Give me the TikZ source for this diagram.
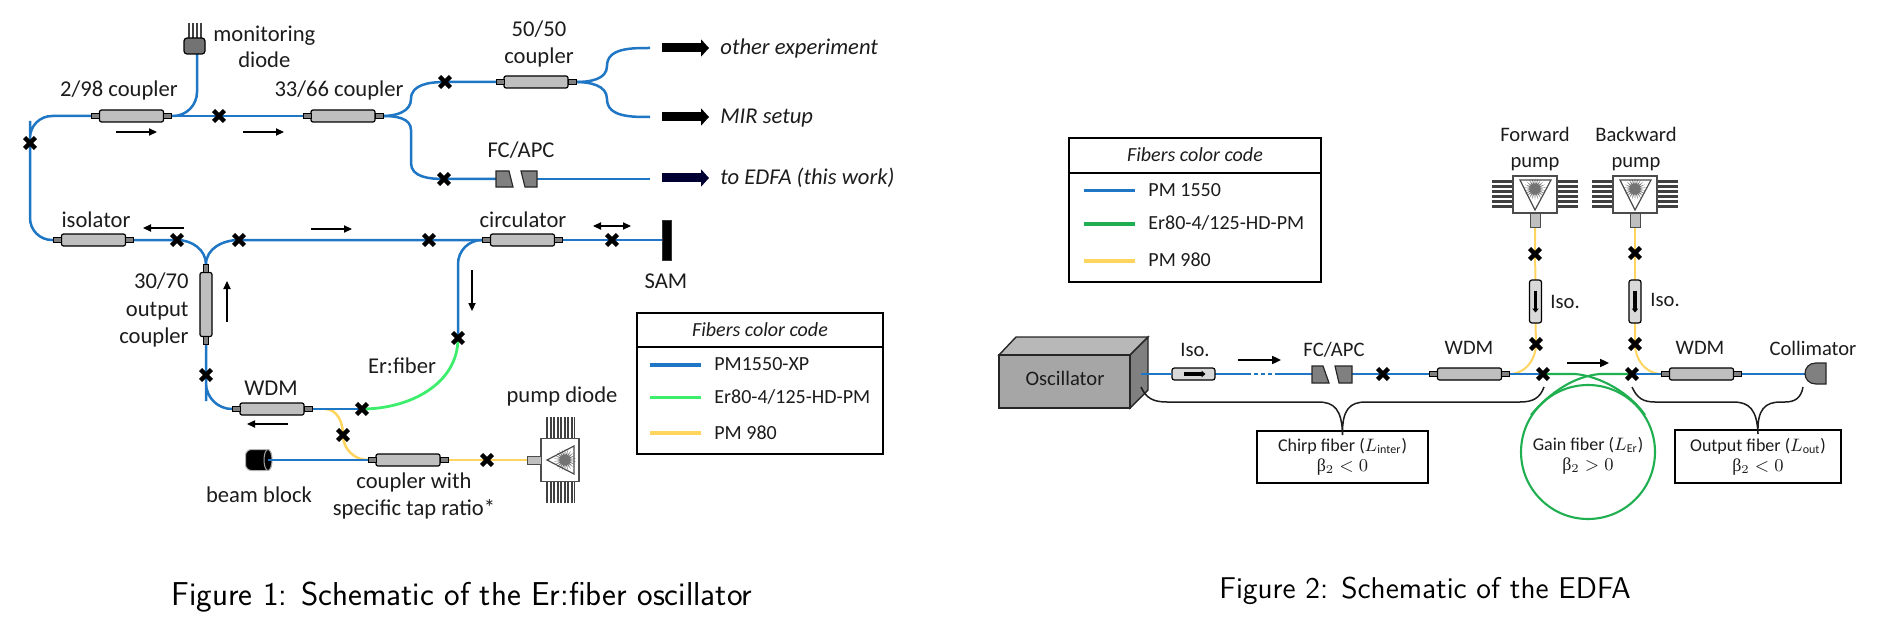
\documentclass[tikz,border=0pt]{standalone}
\usepackage{fontspec}
\setmainfont{Carlito}
\newfontfamily\betafont{Liberation Serif}
\usetikzlibrary{arrows.meta}
\usetikzlibrary{shapes}
\definecolor{pmblue}{HTML}{1F76C4}
\definecolor{ergreen}{HTML}{3DEE6C}
\definecolor{gaingreen}{HTML}{1FAF50}
\definecolor{pmyellow}{HTML}{FFD55F}
\definecolor{inktext}{HTML}{1C1C1C}
\pgfdeclarelayer{fibers}
\pgfsetlayers{fibers,main}

\begin{document}
\begin{tikzpicture}[x=0.5pt,y=0.5pt,yscale=-1,xscale=1,
  body/.style={draw,line width=0.6pt,fill=black!25,rounded corners=1pt,inner sep=0pt,outer sep=0pt,minimum width=32pt,minimum height=6pt},
  stub/.style={draw,line width=0.5pt,fill=black!50,inner sep=0pt,outer sep=0pt,minimum width=4pt,minimum height=2.6pt},
  iso/.style={draw,line width=0.6pt,fill=black!15,rounded corners=1.2pt,inner sep=0pt,outer sep=0pt,minimum width=21.5pt,minimum height=6pt},
  splice/.style={cross out,draw=black,line width=2.2pt,inner sep=0pt,outer sep=0pt,minimum size=5.4pt},
  pm1550/.style={draw=pmblue,line width=1.25pt},
  pm1550b/.style={draw=pmblue,line width=1pt},
  erfiber/.style={draw=ergreen,line width=1.4pt},
  gainfiber/.style={draw=gaingreen,line width=1.05pt},
  pm980/.style={draw=pmyellow,line width=1.25pt},
  pm980b/.style={draw=pmyellow,line width=1pt},
  flow/.style={line width=0.55pt,-{Triangle[length=4pt,width=3.6pt]}},
  flowb/.style={line width=0.8pt,-{Triangle[length=4.4pt,width=4pt]}},
  output/.style={line width=4.5pt,-{Triangle[length=4pt,width=8.5pt]}},
  inner/.style={line width=1.6pt,-{Triangle[length=2pt,width=3.2pt]}},
  pins/.style={line width=10.5pt,color=black!75,dash pattern=on 1.1pt off 0.65pt},
  pinsb/.style={line width=10.5pt,color=black!75,dash pattern=on 1.6pt off 0.85pt},
  casing/.style={draw=black!70,line width=0.6pt,fill=white,inner sep=0pt,outer sep=0pt},
  feed/.style={draw=black!70,line width=0.5pt,fill=black!25,inner sep=0pt,outer sep=0pt},
  burst/.style={star,star points=22,star point ratio=2.4,fill=black!55,inner sep=0pt,minimum size=11pt},
  lgbox/.style={draw,line width=0.75pt,inner sep=0pt,outer sep=0pt},
  swatch/.style={inner sep=0pt,outer sep=0pt,minimum width=25.5pt,minimum height=1.6pt},
  infobox/.style={draw,line width=0.8pt,inner sep=0pt,outer sep=0pt,align=center,text=inktext,font=\fontsize{9}{10}\selectfont},
  bracket/.style={draw=inktext,line width=0.75pt},
  lbl/.style={inner sep=0pt,text=inktext,align=center,font=\fontsize{11.3}{13.75}\selectfont},
  lblb/.style={inner sep=0pt,text=inktext,align=center,font=\fontsize{10.3}{13}\selectfont},
  lgtext/.style={inner sep=0pt,text=inktext,anchor=west,font=\fontsize{10}{12}\selectfont},
  capt/.style={inner sep=0pt,text=black,font=\sffamily\fontsize{16.55}{18}\selectfont},
  captb/.style={inner sep=0pt,text=black,font=\sffamily\fontsize{15}{18}\selectfont}]
\useasboundingbox (0,0) rectangle (1880,626);

%Shape: couplers of the oscillator
\node[body] (cplA) at (131.5,116) {};
\node[stub,anchor=east] (cplAl) at (cplA.west) {};
\node[stub,anchor=west] (cplAr) at (cplA.east) {};
\node[body] (cplB) at (343,116) {};
\node[stub,anchor=east] (cplBl) at (cplB.west) {};
\node[stub,anchor=west] (cplBr) at (cplB.east) {};
\node[body] (cplG) at (536,82) {};
\node[stub,anchor=east] (cplGl) at (cplG.west) {};
\node[stub,anchor=west] (cplGr) at (cplG.east) {};
\node[body] (isoA) at (93.5,240) {};
\node[stub,anchor=east] (isoAl) at (isoA.west) {};
\node[stub,anchor=west] (isoAr) at (isoA.east) {};
\node[body] (cplE) at (522.5,240) {};
\node[stub,anchor=east] (cplEl) at (cplE.west) {};
\node[stub,anchor=west] (cplEr) at (cplE.east) {};
\node[body,rotate=90] (cplC) at (206,304.5) {};
\node[stub,rotate=90,anchor=west] (cplCt) at (cplC.east) {};
\node[stub,rotate=90,anchor=east] (cplCb) at (cplC.west) {};
\node[body] (cplD) at (272,409) {};
\node[stub,anchor=east] (cplDl) at (cplD.west) {};
\node[stub,anchor=west] (cplDr) at (cplD.east) {};
\node[body] (cplF) at (408,460) {};
\node[stub,anchor=east] (cplFl) at (cplF.west) {};
\node[stub,anchor=west] (cplFr) at (cplF.east) {};

%Shape: monitoring diode
\draw[pins,line width=7.5pt,dash pattern=on 1.1pt off 0.9pt] (188,30.5) -- (203,30.5);
\node[draw,line width=0.6pt,fill=black!55,rounded corners=1.5pt,inner sep=0pt,outer sep=0pt,minimum width=10.5pt,minimum height=8pt] (diodeM) at (194.5,46) {};
\coordinate (diodeIn) at (197,54);

%Shape: pump diode
\draw[pins] (546,427.5) -- (575,427.5);
\draw[pins] (546,492.5) -- (575,492.5);
\node[casing,minimum width=19pt,minimum height=21.5pt] (pumpA) at (560,460) {};
\node[feed,anchor=east,minimum width=7pt,minimum height=4pt] (pumpAs) at (pumpA.west) {};
\node[burst] (burstA) at (565,460) {};
\draw[black!70,line width=0.6pt] (547,460) -- (574,446) -- (574,474) -- cycle;

%Shape: beam block
\node[draw=black!30,line width=0.5pt,fill=black,rounded corners=3pt,inner sep=0pt,outer sep=0pt,minimum width=13pt,minimum height=10.5pt] (blockB) at (258.5,460) {};
\node[ellipse,draw=black!35,line width=0.5pt,fill=black,inner sep=0pt,outer sep=0pt,minimum width=4pt,minimum height=10.5pt] (blockE) at (268,460) {};

%Shape: FC/APC connector, SAM and the output arrows
\node[draw=black!80,line width=0.5pt,fill=black,inner sep=0pt,outer sep=0pt,minimum width=4.5pt,minimum height=20pt] (sam) at (667,240) {};
\draw[draw=black!85,line width=0.6pt,fill=black!50] (496,171) -- (509,171) -- (513,187) -- (496,187) -- cycle;
\draw[draw=black!85,line width=0.6pt,fill=black!50] (521,171) -- (537,171) -- (537,187) -- (525,187) -- cycle;
\coordinate (fcA) at (496,179);
\coordinate (fcB) at (537,179);

\coordinate (outA) at (650,48);
\coordinate (outB) at (650,117);
\coordinate (outC) at (650,179);
\coordinate (bendGu) at (607,66);
\coordinate (bendGd) at (607,99);
\coordinate (bendBu) at (411,99);
\coordinate (bendBd) at (411,130);
\coordinate (bendBe) at (411,163);
\coordinate (tapW) at (325,409);

%Shape: splices of the oscillator
\node[splice] (spA) at (30,143) {};
\node[splice] (spB) at (219,116) {};
\node[splice] (spC) at (445,82) {};
\node[splice] (spD) at (444,179) {};
\node[splice] (spE) at (177,240) {};
\node[splice] (spF) at (239,240) {};
\node[splice] (spG) at (429,240) {};
\node[splice] (spH) at (612,240) {};
\node[splice] (spI) at (206,375) {};
\node[splice] (spJ) at (362,409) {};
\node[splice] (spK) at (458,338) {};
\node[splice] (spL) at (343,435) {};
\node[splice] (spM) at (487,460) {};

\begin{pgfonlayer}{fibers}
%Straight Lines: oscillator fibers
\draw[pm1550,rounded corners=11pt] (cplAl.west) -| (spA.center) |- (isoAl.west);
\draw[pm1550,rounded corners=12pt] (cplAr.east) -| (diodeIn);
\draw[pm1550] (cplAr.east) -- (spB.center) -- (cplBl.west);
\draw[pm1550] (cplBr.east) to[out=0,in=90] (bendBu) to[out=-90,in=180] (spC.center) -- (cplGl.west);
\draw[pm1550] (cplBr.east) to[out=0,in=-90] (bendBd) -- (bendBe) to[out=90,in=180] (spD.center) -- (fcA);
\draw[pm1550] (fcB) -- (outC);
\draw[pm1550] (cplGr.east) to[out=0,in=90] (bendGu) to[out=-90,in=180] (outA);
\draw[pm1550] (cplGr.east) to[out=0,in=-90] (bendGd) to[out=90,in=180] (outB);
\draw[pm1550] (isoAr.east) -- (spE.center) to[out=0,in=-90] (cplCt.east);
\draw[pm1550] (cplCt.east) to[out=-90,in=180] (spF.center) -- (spG.center) -- (cplEl.west);
\draw[pm1550] (cplEr.east) -- (spH.center) -- (sam.west);
\draw[pm1550,rounded corners=12pt] (spK.center) |- (cplEl.west);
\draw[pm1550,rounded corners=13pt] (cplCb.east) -- (spI.center) |- (cplDl.west);
\draw[pm980] (tapW) to[out=0,in=-90] (spL.center) to[out=90,in=180] (cplFl.west);
\draw[pm1550] (cplDr.east) -- (spJ.center);
\draw[erfiber] (spJ.center) to[out=0,in=90] (spK.center);
\draw[pm980] (cplFr.east) -- (spM.center) -- (pumpAs.west);
\end{pgfonlayer}
\draw[pm1550] (blockE.center) -- (cplFl.west);

%Straight Lines: direction arrows
\coordinate (dirA) at (116,132);
\draw[flow] (dirA) -- ++(41,0);
\coordinate (dirB) at (243,132);
\draw[flow] (dirB) -- ++(41,0);
\coordinate (dirC) at (184,228);
\draw[flow] (dirC) -- ++(-41,0);
\coordinate (dirD) at (311,229);
\draw[flow] (dirD) -- ++(41,0);
\coordinate (dirE) at (227,322);
\draw[flow] (dirE) -- ++(0,-41);
\coordinate (dirF) at (472,270);
\draw[flow] (dirF) -- ++(0,41);
\coordinate (dirG) at (288,424);
\draw[flow] (dirG) -- ++(-41,0);
\coordinate (dirH) at (593,226);
\draw[flow,{Triangle[length=4pt,width=3.6pt]}-{Triangle[length=4pt,width=3.6pt]}] (dirH) -- ++(38,0);

\coordinate (arrA) at (662,48);
\draw[output] (arrA) -- ++(47,0);
\coordinate (arrB) at (662,117);
\draw[output] (arrB) -- ++(47,0);
\coordinate (arrC) at (662,178);
\draw[output,color=black!80!blue] (arrC) -- ++(47,0);

%Shape: legend of the oscillator
\node[lgbox,anchor=north west,minimum width=123pt,minimum height=17pt] (lgAt) at (637,313) {};
\node[lgbox,anchor=north west,minimum width=123pt,minimum height=53.5pt] (lgAb) at (lgAt.south west) {};
\node[swatch,fill=pmblue] (lgAa) at (675.5,365) {};
\node[swatch,fill=ergreen] (lgAc) at (675.5,397.5) {};
\node[swatch,fill=pmyellow] (lgAd) at (675.5,433) {};

% Text Node
\node[lbl,anchor=west] (tMon) at (213,47) {monitoring\\[-0.5pt]diode};
\node[lbl] (tCplA) at (119,90) {2/98 coupler};
\node[lbl] (tCplB) at (339,90) {33/66 coupler};
\node[lbl] (tCplG) at (539,44) {50/50\\coupler};
\node[lbl] (tFc) at (521,150) {FC/APC};
\node[lbl] (tIso) at (96,220) {isolator};
\node[lbl] (tCirc) at (523,220) {circulator};
\node[lbl] (tSam) at (666,281) {SAM};
\node[lbl,anchor=east,align=right] (tOut) at (189,310) {30/70\\output\\coupler};
\node[lbl] (tWdm) at (271,388) {WDM};
\node[lbl] (tEr) at (402,366) {Er:fiber};
\node[lbl] (tPump) at (562,396) {pump diode};
\node[lbl] (tBlock) at (259,495) {beam block};
\node[lbl] (tTap) at (414,496) {coupler with\\specific tap ratio*};
\node[lbl,anchor=west] (tOther) at (720,48) {\itshape other experiment};
\node[lbl,anchor=west] (tMir) at (720,118) {\itshape MIR setup};
\node[lbl,anchor=west] (tEdfa) at (720,178) {\itshape to EDFA (this work)};
\node[lgtext,anchor=center] (tLgA) at (760,330) {\itshape Fibers color code};
\node[lgtext] (tLgAa) at (714,364) {PM1550-XP};
\node[lgtext] (tLgAc) at (714,397) {Er80-4/125-HD-PM};
\node[lgtext] (tLgAd) at (714,433) {PM 980};
\node[capt] (capA) at (462,597) {Figure 1: Schematic of the Er:fiber oscillator};

%Shape: oscillator box
\draw[draw=black!85,line width=0.7pt,fill=black!28] (999,355) -- (1016,337) -- (1148,337) -- (1130,355) -- cycle;
\draw[draw=black!85,line width=0.7pt,fill=black!50] (1130,355) -- (1148,337) -- (1148,390) -- (1130,408) -- cycle;
\node[draw=black!85,line width=0.7pt,fill=black!35,inner sep=0pt,outer sep=0pt,minimum width=65.5pt,minimum height=26.5pt] (osc) at (1064.5,381.5) {};
\coordinate (oscOut) at (1141,374);

%Shape: pumps of the amplifier
\draw[pinsb] (1502.5,180) -- (1502.5,209);
\draw[pinsb] (1567.5,180) -- (1567.5,209);
\node[casing,minimum width=22pt,minimum height=18.5pt] (pumpF) at (1535,194.5) {};
\node[feed,anchor=north,minimum width=5pt,minimum height=7pt] (pumpFs) at (pumpF.south) {};
\node[burst] (burstF) at (1535,189) {};
\draw[black!70,line width=0.6pt] (1520,180) -- (1551,180) -- (1535,210) -- cycle;
\draw[pinsb] (1602,180) -- (1602,209);
\draw[pinsb] (1667.5,180) -- (1667.5,209);
\node[casing,minimum width=22pt,minimum height=18.5pt] (pumpB) at (1635,194.5) {};
\node[feed,anchor=north,minimum width=5pt,minimum height=7pt] (pumpBs) at (pumpB.south) {};
\node[burst] (burstB) at (1635,189) {};
\draw[black!70,line width=0.6pt] (1620,180) -- (1651,180) -- (1635,210) -- cycle;

%Shape: isolators
\node[iso] (isoB) at (1193.5,374) {};
\node[iso,rotate=90] (isoC) at (1535.5,301.5) {};
\node[iso,rotate=90] (isoD) at (1635,301.5) {};
\draw[inner] (isoB.center) ++(-10,0) -- ++(22,0);
\draw[inner] (isoC.center) ++(0,-11) -- ++(0,22);
\draw[inner] (isoD.center) ++(0,-11) -- ++(0,22);

%Shape: connector, WDMs and collimator
\draw[draw=black!85,line width=0.6pt,fill=black!50] (1312,366) -- (1323,366) -- (1329,383) -- (1312,383) -- cycle;
\draw[draw=black!85,line width=0.6pt,fill=black!50] (1335,366) -- (1352,366) -- (1352,383) -- (1339,383) -- cycle;
\coordinate (fcC) at (1312,374);
\coordinate (fcD) at (1352,374);
\coordinate (breakA) at (1247,374);
\coordinate (breakB) at (1275,374);
\node[body] (wdmA) at (1469.5,374) {};
\node[stub,anchor=east] (wdmAl) at (wdmA.west) {};
\node[stub,anchor=west] (wdmAr) at (wdmA.east) {};
\node[body] (wdmB) at (1701.5,374) {};
\node[stub,anchor=east] (wdmBl) at (wdmB.west) {};
\node[stub,anchor=west] (wdmBr) at (wdmB.east) {};
\draw[draw=black!85,line width=0.6pt,fill=black!50] (1826,363) -- (1816,363) .. controls (1809,363) and (1805,368) .. (1805,373.5) .. controls (1805,379) and (1809,384) .. (1816,384) -- (1826,384) -- cycle;
\coordinate (colIn) at (1805,374);

%Shape: splices of the amplifier
\node[splice] (spN) at (1383,374) {};
\node[splice] (spO) at (1543,374) {};
\node[splice] (spP) at (1632,374) {};
\node[splice] (spQ) at (1535,254) {};
\node[splice] (spR) at (1536,344) {};
\node[splice] (spS) at (1635,253) {};
\node[splice] (spT) at (1635,344) {};

\coordinate (gainA) at (1575,374);
\coordinate (gainB) at (1600,374);
\coordinate (gainC) at (1645,415);
\coordinate (gainD) at (1531,415);

\begin{pgfonlayer}{fibers}
%Straight Lines: amplifier fibers
\node[circle,draw=gaingreen,line width=1.05pt,inner sep=0pt,outer sep=0pt,minimum size=67pt] (gainLoop) at (1588,452) {};
\draw[pm1550b] (isoB.east) -- (breakA);
\draw[pm1550b,dash pattern=on 2pt off 1.5pt] (breakA) -- (breakB);
\draw[pm1550b] (breakB) -- (fcC);
\draw[pm1550b] (fcD) -- (spN.center) -- (wdmAl.west);
\draw[pm980b] (isoC.west) -- (spR.center) to[out=90,in=0] (wdmAr.east);
\draw[pm980b] (isoD.west) -- (spT.center) to[out=90,in=180] (wdmBl.west);
\draw[pm1550b] (wdmAr.east) -- (spO.center);
\draw[pm1550b] (spP.center) -- (wdmBl.west);
\draw[pm1550b] (wdmBr.east) -- (colIn);
\draw[gainfiber] (spO.center) -- (gainA) .. controls (1600,376) and (1630,393) .. (gainC);
\draw[gainfiber] (spP.center) -- (gainB) .. controls (1575,376) and (1550,392) .. (gainD);
\draw[pm980b] (pumpFs.south) -- (spQ.center) -- (isoC.east);
\draw[pm980b] (pumpBs.south) -- (spS.center) -- (isoD.east);
\end{pgfonlayer}
\draw[pm1550b] (oscOut) -- (isoB.west);

%Straight Lines: direction arrows
\coordinate (dirI) at (1238,360);
\draw[flowb] (dirI) -- ++(43,0);
\coordinate (dirJ) at (1567,363);
\draw[flowb] (dirJ) -- ++(42,0);

%Shape: legend of the amplifier
\node[lgbox,anchor=north west,minimum width=126pt,minimum height=17.5pt] (lgBt) at (1069,138) {};
\node[lgbox,anchor=north west,minimum width=126pt,minimum height=54.5pt] (lgBb) at (lgBt.south west) {};
\node[swatch,fill=pmblue] (lgBa) at (1109,190.5) {};
\node[swatch,fill=gaingreen] (lgBc) at (1109,224) {};
\node[swatch,fill=pmyellow] (lgBd) at (1109,261) {};

%Shape: boxes and braces
\node[infobox,minimum width=85.5pt,minimum height=26pt] (boxChirp) at (1342.5,457) {Chirp fiber ($L_{\mathrm{inter}}$)\\{\betafont β}$_2<0$};
\node[infobox,minimum width=83pt,minimum height=26.5pt] (boxOut) at (1758,456.5) {Output fiber ($L_{\mathrm{out}}$)\\{\betafont β}$_2<0$};
\node[infobox,draw=none] (tGain) at (1588,456) {Gain fiber ($L_{\mathrm{Er}}$)\\{\betafont β}$_2>0$};
\coordinate (braA) at (1141,387);
\coordinate (braB) at (1544,387);
\coordinate (braC) at (1632,387);
\coordinate (braD) at (1803,387);
\draw[bracket] (braA) .. controls (1146,398) and (1153,402) .. (1167,402) -- (1318,402) .. controls (1334,402) and (1342,409) .. ([yshift=2pt]boxChirp.north) .. controls (1342,409) and (1350,402) .. (1366,402) -- (1520,402) .. controls (1533,402) and (1540,398) .. (braB);
\draw[bracket] (braC) .. controls (1637,398) and (1643,402) .. (1655,402) -- (1733,402) .. controls (1749,402) and (1757,409) .. ([yshift=2pt]boxOut.north) .. controls (1757,409) and (1765,402) .. (1781,402) -- (1785,402) .. controls (1795,402) and (1801,398) .. (braD);

% Text Node
\node[lblb] (tOsc) at (1065,378) {Oscillator};
\node[lblb] (tIsoB) at (1195,350) {Iso.};
\node[lblb] (tFcB) at (1334,350) {FC/APC};
\node[lblb] (tWdmA) at (1469,348) {WDM};
\node[lblb] (tWdmB) at (1700,348) {WDM};
\node[lblb] (tCol) at (1813,348) {Collimator};
\node[lblb] (tFwd) at (1535,149) {Forward\\pump};
\node[lblb] (tBwd) at (1636,149) {Backward\\pump};
\node[lblb,anchor=west] (tIsoC) at (1550,302) {Iso.};
\node[lblb,anchor=west] (tIsoD) at (1650,300) {Iso.};
\node[lgtext,anchor=center] (tLgB) at (1195,155) {\itshape Fibers color code};
\node[lgtext] (tLgBa) at (1148,190) {PM 1550};
\node[lgtext] (tLgBc) at (1148,223) {Er80-4/125-HD-PM};
\node[lgtext] (tLgBd) at (1148,260) {PM 980};
\node[captb] (capB) at (1425,591) {Figure 2: Schematic of the EDFA};

\end{tikzpicture}
\end{document}
